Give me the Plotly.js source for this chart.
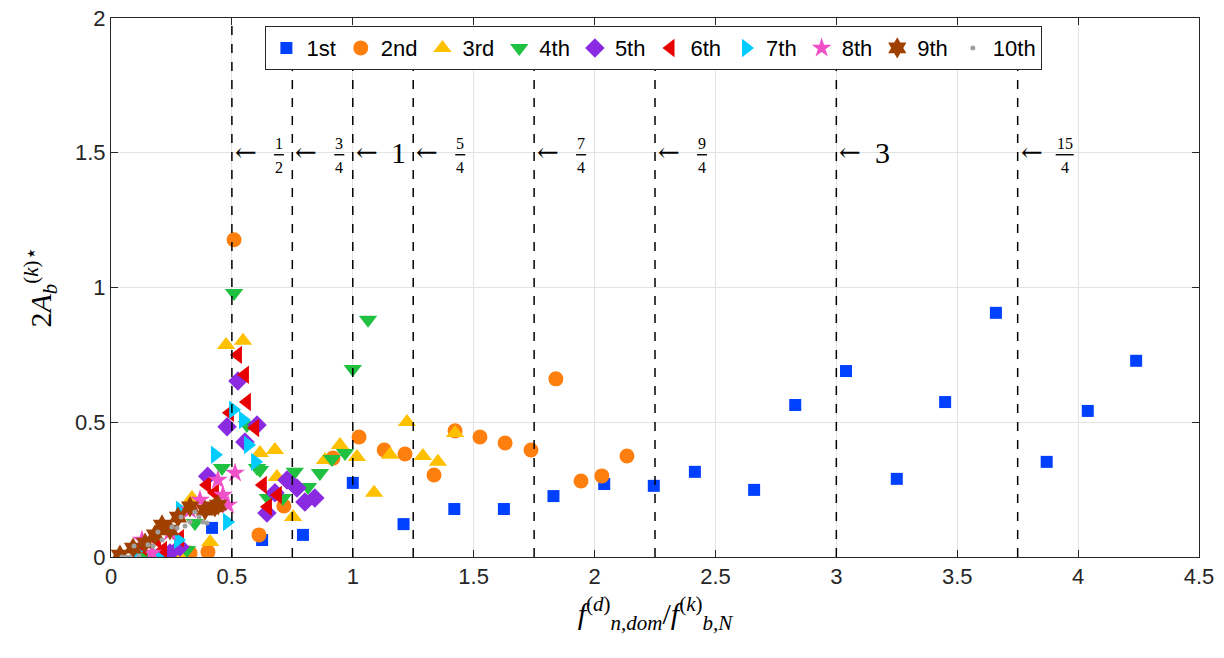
<!DOCTYPE html>
<html>
<head>
<meta charset="utf-8">
<script src="https://cdn.plot.ly/plotly-3.0.1.min.js"></script>
<style>html,body{margin:0;padding:0;background:#fff;}#chart{width:1224px;height:658px;}</style>
</head>
<body>
<div id="chart"></div>
<script>
// ---- data ----
const seriesNames = ['1st','2nd','3rd','4th','5th','6th','7th','8th','9th','10th'];

const x1 = [0.418,0.625,0.794,1.0,1.21,1.42,1.625,1.83,2.04,2.245,2.415,2.66,2.83,3.04,3.25,3.45,3.66,3.87,4.04,4.24];
const y1 = [0.108,0.063,0.082,0.275,0.122,0.178,0.178,0.226,0.271,0.264,0.316,0.249,0.564,0.690,0.290,0.575,0.906,0.353,0.542,0.728];

const x2 = [0.509,0.612,0.715,1.026,1.13,1.216,1.336,1.423,1.526,1.63,1.737,1.84,1.944,2.03,2.134,0.401,0.327,0.918];
const y2 = [1.177,0.082,0.189,0.445,0.397,0.382,0.304,0.468,0.445,0.423,0.397,0.661,0.282,0.301,0.375,0.019,0.015,0.367];

const x3 = [0.476,0.546,0.616,0.335,0.41,0.686,0.753,0.947,0.885,1.017,1.088,1.154,1.224,1.29,1.352,1.423,0.678,0.285];
const y3 = [0.787,0.802,0.386,0.219,0.056,0.297,0.148,0.416,0.36,0.371,0.238,0.379,0.501,0.375,0.353,0.46,0.397,0.007];

const x4 = [0.509,1.063,1.0,0.76,0.864,0.914,0.968,0.815,0.711,0.649,0.616,0.562,0.459,0.604,0.314,0.149,0.347];
const y4 = [0.98,0.88,0.698,0.316,0.312,0.364,0.386,0.26,0.219,0.219,0.323,0.49,0.33,0.33,0.026,0.0,0.126];

const x5 = [0.525,0.48,0.604,0.554,0.728,0.769,0.843,0.802,0.678,0.645,0.40,0.244,0.285];
const y5 = [0.653,0.483,0.49,0.427,0.286,0.256,0.219,0.204,0.238,0.163,0.30,0.015,0.037];

const x6 = [0.525,0.554,0.562,0.492,0.596,0.628,0.69,0.649,0.397,0.43,0.285,0.19,0.132,0.215];
const y6 = [0.75,0.676,0.575,0.535,0.479,0.267,0.23,0.186,0.267,0.238,0.07,0.063,0.037,0.026];

const x7 = [0.505,0.546,0.43,0.567,0.596,0.48,0.285,0.277,0.19,0.10];
const y7 = [0.546,0.508,0.379,0.416,0.353,0.13,0.175,0.063,0.0,0.02];

const x8 = [0.513,0.442,0.463,0.368,0.484,0.244,0.128,0.17,0.327];
const y8 = [0.312,0.286,0.23,0.212,0.193,0.093,0.063,0.015,0.174];

const x9 = [0.037,0.091,0.141,0.182,0.211,0.244,0.277,0.327,0.389,0.43,0.443];
const y9 = [0.007,0.033,0.052,0.082,0.119,0.10,0.148,0.186,0.174,0.186,0.193];

const x10 = [0.045,0.062,0.079,0.116,0.095,0.153,0.174,0.194,0.211,0.252,0.273,0.306,0.29,0.327,0.347,0.364,0.38,0.397];
const y10 = [0.0,0.0,0.0,0.004,0.041,0.045,0.041,0.093,0.063,0.111,0.108,0.115,0.148,0.13,0.167,0.148,0.13,0.126];

// reference ratio lines and their labels
const ratioLines = [0.5,0.75,1,1.25,1.75,2.25,3,3.75];
const ratioNum   = ['1','3','1','5','7','9','3','15'];
const ratioDen   = ['2','4','','4','4','4','','4'];
const labelY = 1.5;

// ---- styles ----
const xs = [x1,x2,x3,x4,x5,x6,x7,x8,x9,x10];
const ys = [y1,y2,y3,y4,y5,y6,y7,y8,y9,y10];
const colors = ['#0040ff','#ff7f0e','#ffc000','#20c040','#8a2be2','#e60000','#00ccff','#f050c8','#a04000','#a0a0a0'];
const symbols = ['square','circle','triangle-up','triangle-down','diamond','triangle-left','triangle-right','star','hexagram','circle'];
const sizes = [12,15,16,16,15,16,16,15,16,5];

const traces = seriesNames.map((n,i)=>({
  type:'scatter', mode:'markers', name:n, x:xs[i], y:ys[i],
  marker:{symbol:symbols[i], color:colors[i], size:sizes[i], line:{width:0}},
  showlegend:true
}));

const serif = 'Liberation Serif, DejaVu Serif, serif';
const sans = 'Liberation Sans, Arial, sans-serif';

const shapes = [];
const annotations = [];
ratioLines.forEach((xv,i)=>{
  shapes.push({type:'line', xref:'x', yref:'y', x0:xv, x1:xv, y0:0, y1:2,
    line:{color:'#000', width:1.5, dash:'dash'}, layer:'above'});
  annotations.push({x:xv, y:labelY, xref:'x', yref:'y', text:'←', showarrow:false,
    xanchor:'left', yanchor:'middle', xshift:1, yshift:1, font:{family:'DejaVu Serif, serif', size:26, color:'#000'}});
  if (ratioDen[i] === '') {
    annotations.push({x:xv, y:labelY, xref:'x', yref:'y', text:ratioNum[i], showarrow:false,
      xanchor:'center', yanchor:'middle', xshift:46, yshift:0, font:{family:serif, size:30, color:'#000'}});
  } else {
    annotations.push({x:xv, y:labelY, xref:'x', yref:'y', text:ratioNum[i], showarrow:false,
      xanchor:'center', yanchor:'bottom', xshift:47, yshift:-1, font:{family:serif, size:16, color:'#000'}});
    annotations.push({x:xv, y:labelY, xref:'x', yref:'y', text:ratioDen[i], showarrow:false,
      xanchor:'center', yanchor:'top', xshift:47, yshift:-4, font:{family:serif, size:16, color:'#000'}});
    const hw = ratioNum[i].length > 1 ? 9 : 5;
    shapes.push({type:'line', xref:'x', yref:'y', xsizemode:'pixel', ysizemode:'pixel',
      xanchor:xv, yanchor:labelY, x0:47-hw, x1:47+hw, y0:-2, y1:-2,
      line:{color:'#000', width:1.4}, layer:'above'});
  }
});

const layout = {
  width:1224, height:658,
  margin:{l:111, r:25, t:18, b:101},
  paper_bgcolor:'#fff', plot_bgcolor:'#fff',
  font:{family:sans, size:22, color:'#262626'},
  xaxis:{range:[0,4.5], dtick:0.5, tick0:0, showgrid:true, gridcolor:'#e3e3e3', gridwidth:1,
    zeroline:false, showline:true, linecolor:'#262626', linewidth:1, mirror:'ticks',
    ticks:'inside', ticklen:7, tickcolor:'#262626',
    tickfont:{family:sans, size:22, color:'#262626'},
    title:{text:'<i>f</i><sup>(<i>d</i>)</sup><sub><i>n,dom</i></sub>/<i>f</i><sup>(<i>k</i>)</sup><sub><i>b,N</i></sub>',
      font:{family:serif, size:30, color:'#000'}, standoff:14}},
  yaxis:{range:[0,2], dtick:0.5, tick0:0, showgrid:true, gridcolor:'#e3e3e3', gridwidth:1,
    zeroline:false, showline:true, linecolor:'#262626', linewidth:1, mirror:'ticks',
    ticks:'inside', ticklen:7, tickcolor:'#262626',
    tickfont:{family:sans, size:22, color:'#262626'},
    title:{text:'2<i>A</i><sub><i>b</i></sub><sup>(<i>k</i>)⋆</sup>',
      font:{family:serif, size:30, color:'#000'}, standoff:14}},
  legend:{orientation:'h', x:0.499, xanchor:'center', y:0.985, yanchor:'top',
    bgcolor:'#fff', bordercolor:'#262626', borderwidth:1,
    font:{family:sans, size:22, color:'#000'}, itemwidth:30, tracegroupgap:0},
  shapes:shapes, annotations:annotations,
  showlegend:true
};

Plotly.newPlot('chart', traces, layout, {displayModeBar:false, staticPlot:true});
</script>
</body>
</html>
